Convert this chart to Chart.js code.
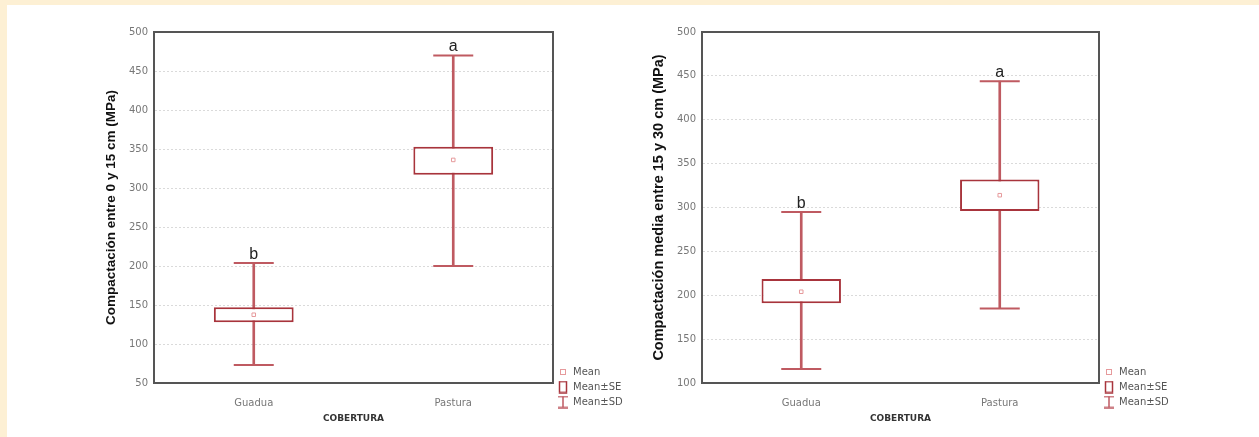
<!DOCTYPE html>
<html>
<head>
<meta charset="utf-8">
<script src="https://cdn.jsdelivr.net/npm/chart.js@4"></script>
<style>
  html, body { margin: 0; padding: 0; background: #fdf0d4; }
  #panel { position: absolute; left: 7px; top: 5px; width: 1252px; height: 432px; background: #fff; }
  #c1 { position: absolute; left: 0; top: 0; }
  #c2 { position: absolute; left: 630px; top: 0; }
</style>
</head>
<body>
<div id="panel">
  <canvas id="c1" width="630" height="432"></canvas>
  <canvas id="c2" width="622" height="432"></canvas>
</div>
<script>
const categories = ["Guadua", "Pastura"];
const groupLetters = ["b", "a"];

// compactacion 0-15 cm
const mean0_15 = [137.5, 336];
const seLow0_15 = [128, 317];
const seHigh0_15 = [147, 353];
const sdLow0_15 = [73, 200];
const sdHigh0_15 = [204, 470];

// compactacion 15-30 cm
const mean15_30 = [204, 314];
const seLow15_30 = [191, 296];
const seHigh15_30 = [218.5, 332];
const sdLow15_30 = [116, 185];
const sdHigh15_30 = [295, 444];

const legendLabels = ["Mean", "Mean±SE", "Mean±SD"];

const boxColor = "#a8343c";
const whiskerColor = "#bf5a61";
const meanColor = "#e69a9c";
const axisColor = "#555";
const legendFont = "10px 'DejaVu Sans'";

Chart.defaults.font.family = "'DejaVu Sans', sans-serif";

function icon(w, h, draw) {
  const c = document.createElement("canvas");
  c.width = w; c.height = h;
  draw(c.getContext("2d"));
  return c;
}
const meanIcon = icon(10, 10, g => {
  g.strokeStyle = meanColor; g.lineWidth = 1;
  g.strokeRect(2.5, 2.5, 5, 5);
});
const seIcon = icon(10, 13, g => {
  g.strokeStyle = boxColor; g.lineWidth = 1.5;
  g.strokeRect(1.5, 1, 7, 11);
});
const sdIcon = icon(10, 13, g => {
  g.strokeStyle = whiskerColor; g.lineWidth = 1.5;
  g.beginPath();
  g.moveTo(0, 1); g.lineTo(10, 1);
  g.moveTo(5, 1); g.lineTo(5, 12);
  g.moveTo(0, 12); g.lineTo(10, 12);
  g.stroke();
});
const legendItems = [meanIcon, seIcon, sdIcon].map((ic, i) => ({
  text: legendLabels[i], pointStyle: ic, fillStyle: "#fff", strokeStyle: "#fff",
  lineWidth: 0, fontColor: "#555", hidden: false, datasetIndex: i,
}));

// width the legend box takes (padding + box + gap + text + 10)
const mctx = document.createElement("canvas").getContext("2d");
mctx.font = legendFont;
const legendWidth = 5 + 10 + 5 + Math.max(...legendLabels.map(t => mctx.measureText(t).width)) + 10;

const letterPlugin = {
  id: "letters",
  afterDatasetsDraw(chart, args, opts) {
    const { ctx, scales: { x, y } } = chart;
    ctx.save();
    ctx.font = "16px 'Liberation Sans'";
    ctx.fillStyle = "#222";
    ctx.textAlign = "center";
    ctx.textBaseline = "alphabetic";
    opts.letters.forEach((t, i) => ctx.fillText(t, x.getPixelForValue(i), y.getPixelForValue(opts.top[i]) - 4));
    ctx.restore();
  }
};

function boxChart(id, o) {
  return new Chart(document.getElementById(id), {
    type: "bar",
    plugins: [letterPlugin],
    data: {
      labels: categories,
      datasets: [
        { type: "line", label: "Mean", data: o.mean, showLine: false, pointStyle: "rect",
          pointRadius: 2.5, pointHoverRadius: 2.5, pointBorderWidth: 1, pointBorderColor: meanColor,
          pointBackgroundColor: "#fff", borderColor: meanColor, order: 0 },
        { label: "Mean±SE", data: o.seLow.map((v, i) => [v, o.seHigh[i]]), backgroundColor: "#fff",
          borderColor: boxColor, borderWidth: 2, borderSkipped: false, barPercentage: 0.4,
          categoryPercentage: 1, grouped: false, order: 1 },
        { type: "line", label: "SD high", data: o.sdHigh, showLine: false, pointStyle: "line",
          pointRadius: 20, pointHoverRadius: 20, pointBorderWidth: 2, pointBorderColor: whiskerColor,
          borderColor: whiskerColor, order: 2 },
        { type: "line", label: "SD low", data: o.sdLow, showLine: false, pointStyle: "line",
          pointRadius: 20, pointHoverRadius: 20, pointBorderWidth: 2, pointBorderColor: whiskerColor,
          borderColor: whiskerColor, order: 2 },
        { label: "Mean±SD", data: o.sdLow.map((v, i) => [v, o.sdHigh[i]]), backgroundColor: whiskerColor,
          barThickness: 2, grouped: false, order: 3 },
      ],
    },
    options: {
      responsive: false,
      animation: false,
      devicePixelRatio: 1,
      events: [],
      layout: { padding: { top: 27, bottom: 25, left: 0, right: o.padRight - legendWidth } },
      plugins: {
        tooltip: { enabled: false },
        letters: { letters: groupLetters, top: o.sdHigh },
        legend: {
          position: "right",
          align: "end",
          labels: {
            usePointStyle: true, boxWidth: 10, padding: 5, color: "#555",
            font: { size: 10 },
            generateLabels: () => legendItems,
          },
        },
      },
      scales: {
        x: {
          position: "bottom",
          offset: true,
          grid: { display: false },
          border: { color: axisColor, width: 2 },
          ticks: { padding: 6, color: "#777", font: { size: 10 } },
          title: { display: true, text: "COBERTURA", color: "#333",
            font: { size: 9, weight: "bold" }, padding: { top: 0, bottom: -12 } },
          afterFit: s => { s.height = 29; },
        },
        y: {
          min: o.min, max: 500,
          ticks: { stepSize: 50, padding: 6, color: "#777", font: { size: 10 } },
          grid: { color: "#dadada", drawTicks: false },
          border: { color: axisColor, width: 2, dash: [2, 2] },
          title: { display: true, text: o.title, color: "#111",
            font: { family: "'Liberation Sans'", size: o.titleSize, weight: "bold" },
            padding: { top: o.titlePad, bottom: 0 } },
          afterFit: s => { s.width = o.axisWidth; },
        },
        xTop: {
          position: "top", type: "category", offset: true,
          grid: { display: false }, ticks: { display: false },
          border: { color: axisColor, width: 2 },
          afterFit: s => { s.height = 0; },
        },
        yRight: {
          position: "right", min: o.min, max: 500,
          grid: { display: false }, ticks: { display: false },
          border: { color: axisColor, width: 2 },
          afterFit: s => { s.width = 0; },
        },
      },
    },
  });
}

// padRight: space from the plot's right edge to the canvas edge
boxChart("c1", {
  mean: mean0_15, seLow: seLow0_15, seHigh: seHigh0_15, sdLow: sdLow0_15, sdHigh: sdHigh0_15,
  min: 50, title: "Compactación entre 0 y 15 cm (MPa)", titleSize: 13.5, titlePad: 96.6,
  axisWidth: 147, padRight: 84,
});
boxChart("c2", {
  mean: mean15_30, seLow: seLow15_30, seHigh: seHigh15_30, sdLow: sdLow15_30, sdHigh: sdHigh15_30,
  min: 100, title: "Compactación media entre 15 y 30 cm (MPa)", titleSize: 14.5, titlePad: 13.3,
  axisWidth: 65, padRight: 160,
});
</script>
</body>
</html>
